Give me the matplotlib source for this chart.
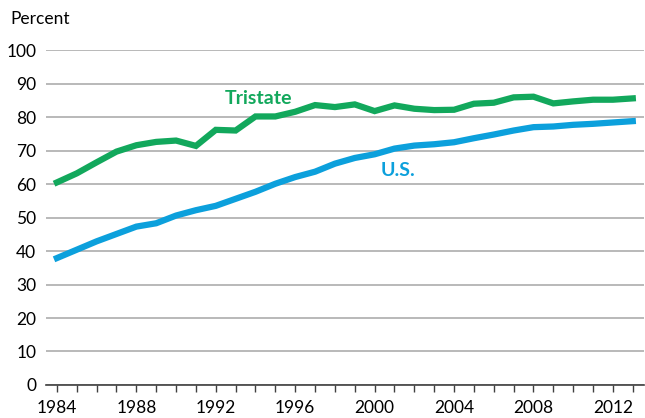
import matplotlib.pyplot as plt
from matplotlib.ticker import MultipleLocator

plt.rcParams['font.family'] = ['Lato', 'DejaVu Sans']

# Data
years = list(range(1984, 2014))
tristate = [60.5, 63.2, 66.5, 69.7, 71.6, 72.6, 73.0, 71.4, 76.2, 76.0,
            80.2, 80.2, 81.6, 83.6, 83.0, 83.8, 81.8, 83.5, 82.5, 82.1,
            82.2, 84.0, 84.3, 85.9, 86.1, 84.1, 84.7, 85.2, 85.2, 85.6]
us = [37.9, 40.4, 42.9, 45.1, 47.3, 48.3, 50.6, 52.2, 53.5, 55.6,
      57.7, 60.1, 62.1, 63.7, 66.1, 67.8, 68.9, 70.6, 71.5, 71.9,
      72.5, 73.7, 74.8, 76.0, 77.0, 77.2, 77.7, 78.0, 78.4, 78.8]
ytick_vals = list(range(0, 101, 10))
xtick_vals = [1984, 1988, 1992, 1996, 2000, 2004, 2008, 2012]

green = '#12A85C'
blue = '#0CA0DC'

fig = plt.figure(figsize=(6.45, 4.18), dpi=100)
ax = fig.add_axes([0.0713, 0.079, 0.927, 0.801])

ax.plot(years, tristate, color=green, lw=4.5, solid_joinstyle='miter', zorder=3)
ax.plot(years, us, color=blue, lw=4.5, solid_joinstyle='miter', zorder=3)

ax.set_xlim(1983.45, 2013.56)
ax.set_ylim(0, 100)

ax.set_yticks(ytick_vals)
ax.yaxis.grid(True, color='#ADADAD', lw=1.2)
ax.set_axisbelow(True)
ax.tick_params(axis='y', length=0, pad=7, labelsize=12.5)

ax.set_xticks(xtick_vals)
ax.xaxis.set_minor_locator(MultipleLocator(1))
ax.tick_params(axis='x', which='both', direction='out', length=5, width=1,
               color='#404040', labelsize=12.5, pad=6)

for side in ['top', 'right', 'left']:
    ax.spines[side].set_visible(False)
ax.spines['bottom'].set_color('#404040')
ax.spines['bottom'].set_linewidth(1.2)

ax.text(1994.15, 85.6, 'Tristate', color=green, fontsize=14, fontweight='bold',
        ha='center', va='center')
ax.text(2001.2, 64.0, 'U.S.', color=blue, fontsize=14, fontweight='bold',
        ha='center', va='center')

fig.text(0.062, 0.955, 'Percent', fontsize=12.5, ha='center', va='center')

plt.savefig('out.png', dpi=100)
